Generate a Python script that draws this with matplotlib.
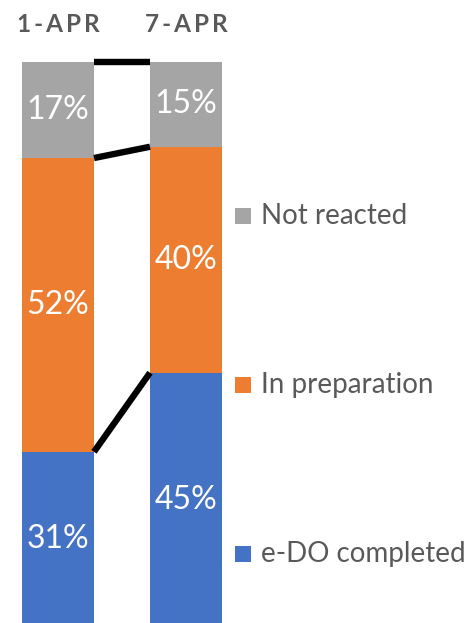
import matplotlib
matplotlib.use("Agg")
import matplotlib.pyplot as plt
from matplotlib.patches import Rectangle

categories = ["1-APR", "7-APR"]
series_names = ["e-DO completed", "In preparation", "Not reacted"]
completed = [31, 45]
preparation = [52, 40]
not_reacted = [17, 15]
colors = ["#4472C4", "#ED7D31", "#A5A5A5"]

W, H = 465, 623
fig = plt.figure(figsize=(W / 100, H / 100), dpi=100)
plt.rcParams['font.family'] = ['Lato', 'DejaVu Sans']

ax = fig.add_axes([22 / W, 0, 200 / W, (H - 62) / H])
bw = 0.5625
x = [0, 1]
series = [completed, preparation, not_reacted]
bottoms = [0, 0]
cums = []
for vals, col in zip(series, colors):
    ax.bar(x, vals, bw, bottom=bottoms, color=col, linewidth=0)
    for i, v in enumerate(vals):
        ax.text(x[i], bottoms[i] + v / 2, f"{v}%", ha="center", va="center",
                color="white", fontsize=23)
    bottoms = [b + v for b, v in zip(bottoms, vals)]
    cums.append(list(bottoms))

for c in cums:
    ax.plot([x[0] + bw / 2, x[1] - bw / 2], c, color="black", lw=4.6,
            solid_capstyle="butt", clip_on=False, zorder=3)

ax.set_xlim(-bw / 2, 1 + bw / 2)
ax.set_ylim(0.7, 100)
ax.axis("off")

sp = "\u2009"
for i, cat in enumerate(categories):
    fig.text((58 + 128 * i) / W, 1 - 25 / H, sp.join(cat), ha="center", va="center",
             fontsize=17.5, fontweight="bold", color="#595959")

legend_y = [216, 385, 554]
for name, col, yy in zip(series_names[::-1], colors[::-1], legend_y):
    fig.patches.append(Rectangle((235 / W, 1 - (yy + 8) / H), 16 / W, 16 / H,
                                 transform=fig.transFigure, facecolor=col, edgecolor="none"))
    fig.text(261 / W, 1 - yy / H, name, ha="left", va="center", fontsize=20,
             color="#595959")

fig.savefig("out.png", dpi=100)
